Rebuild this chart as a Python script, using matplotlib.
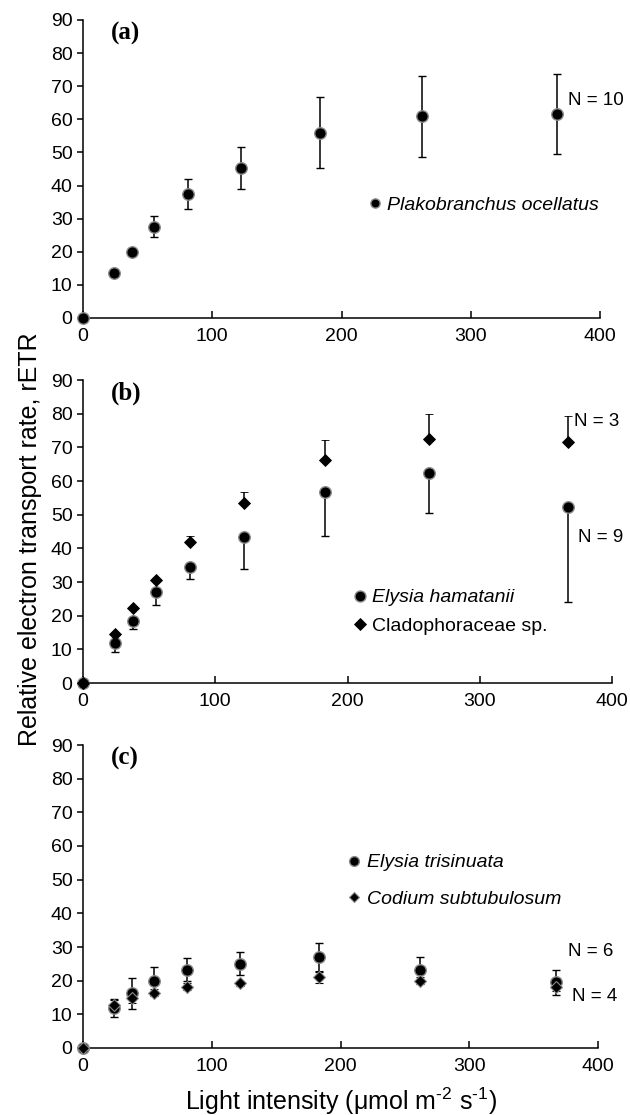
import matplotlib
matplotlib.use("Agg")
import matplotlib.pyplot as plt
from matplotlib.lines import Line2D

plt.rcParams['font.family'] = ['Liberation Sans', 'DejaVu Sans']
plt.rcParams['mathtext.fontset'] = 'custom'
plt.rcParams['mathtext.rm'] = 'Liberation Sans'
plt.rcParams['mathtext.it'] = 'Liberation Sans:italic'

# ---------------- data ----------------
light = [0, 24, 38, 55, 81, 122, 183, 262, 367]

# (a) Plakobranchus ocellatus, N = 10
plako_y = [0, 13.7, 19.9, 27.6, 37.4, 45.2, 56.0, 60.9, 61.7]
plako_err = [0, 0, 0, 3.1, 4.5, 6.3, 10.7, 12.3, 12.1]

# (b) Elysia hamatanii (N = 9), Cladophoraceae sp. (N = 3)
hama_y = [0, 11.9, 18.4, 27.0, 34.4, 43.4, 56.7, 62.5, 52.3]
hama_err_low = [0, 2.6, 2.4, 3.7, 3.4, 9.4, 13.0, 12.0, 28.2]
clado_y = [0, 14.7, 22.2, 30.5, 41.9, 53.6, 66.3, 72.6, 71.5]
clado_err_up = [0, 0, 0, 0, 1.7, 3.1, 5.9, 7.4, 7.7]

# (c) Elysia trisinuata (N = 6), Codium subtubulosum (N = 4)
tris_y = [0, 11.9, 16.2, 19.8, 23.3, 25.0, 26.9, 23.3, 19.5]
tris_err = [0, 2.7, 4.5, 4.2, 3.4, 3.4, 4.2, 3.6, 3.7]
codium_y = [0, 12.9, 14.9, 16.4, 18.2, 19.2, 21.1, 20.0, 18.0]
codium_err = [0, 1.5, 1.5, 1.0, 1.0, 0.8, 1.7, 1.0, 1.2]

xticks = [0, 100, 200, 300, 400]
yticks = [0, 10, 20, 30, 40, 50, 60, 70, 80, 90]
zeros = [0] * len(light)

# ---------------- figure ----------------
W, H = 630, 1115
fig = plt.figure(figsize=(W / 100, H / 100), dpi=100)
axA = fig.add_axes([83 / W, 1 - 318 / H, 517 / W, 298 / H])
axB = fig.add_axes([83 / W, 1 - 683 / H, 529 / W, 303 / H])
axC = fig.add_axes([83 / W, 1 - 1048 / H, 515 / W, 303 / H])

GREY = '#8a8a8a'
CMS, DMS = 8.3, 6.2
circ = dict(fmt='o', ms=CMS, mfc='black', mec=GREY, mew=1.0, ecolor='black',
            elinewidth=1.1, capsize=2.9, capthick=1.1, clip_on=False, zorder=3)
diam = dict(fmt='D', ms=DMS, mfc='black', mec='black', mew=0.6, ecolor='black',
            elinewidth=1.1, capsize=2.9, capthick=1.1, clip_on=False, zorder=4)

for ax in (axA, axB, axC):
    ax.set_xlim(0, 400)
    ax.set_ylim(0, 90)
    for s in ('top', 'right'):
        ax.spines[s].set_visible(False)
    for s in ('left', 'bottom'):
        ax.spines[s].set_linewidth(1.1)
    ax.set_xticks(xticks)
    ax.set_xticklabels([str(t) for t in xticks])
    ax.set_yticks(yticks)
    ax.set_yticklabels([str(t) for t in yticks])
    ax.tick_params(axis='x', direction='in', length=5, width=1.1, pad=7, labelsize=14)
    ax.tick_params(axis='y', direction='out', length=4.5, width=1.1, pad=3, labelsize=14)

def panel_label(ax, s):
    ax.text(32.5, 86, s, fontsize=18, fontweight='bold', ha='center', va='center',
            family=['Liberation Serif', 'DejaVu Serif'])

def legend(ax, handles, labels, anchor, spacing, mscale, italics):
    leg = ax.legend(handles, labels, loc='center left', bbox_to_anchor=anchor,
                    frameon=False, handlelength=0.8, handletextpad=0.25,
                    borderpad=0, borderaxespad=0, labelspacing=spacing,
                    markerscale=mscale, fontsize=14)
    for t, it in zip(leg.get_texts(), italics):
        if it:
            t.set_style('italic')
    return leg

h_circ = Line2D([], [], marker='o', ls='none', ms=CMS, mfc='black', mec=GREY, mew=1.0)
h_diam = Line2D([], [], marker='D', ls='none', ms=DMS, mfc='black', mec='black', mew=0.6)
h_diam_c = Line2D([], [], marker='D', ls='none', ms=DMS, mfc='black', mec=GREY, mew=0.8)

# (a)
axA.errorbar(light, plako_y, yerr=plako_err, **circ)
panel_label(axA, '(a)')
legend(axA, [h_circ], ['Plakobranchus ocellatus'], (0.549, 34.2 / 90), 0.5, 0.8, [True])
axA.text(375, 65.8, 'N = 10', fontsize=13.5, ha='left', va='center')

# (b)
axB.errorbar(light, hama_y, yerr=[hama_err_low, zeros], **circ)
axB.errorbar(light, clado_y, yerr=[zeros, clado_err_up], **diam)
panel_label(axB, '(b)')
legend(axB, [h_circ, h_diam], ['Elysia hamatanii', 'Cladophoraceae sp.'],
       (0.508, 21.15 / 90), 0.55, 0.95, [True, False])
axB.text(371, 77.7, 'N = 3', fontsize=13.5, ha='left', va='center')
axB.text(374, 43.3, 'N = 9', fontsize=13.5, ha='left', va='center')

# (c)
axC.errorbar(light, tris_y, yerr=tris_err, **circ)
diam_c = dict(diam, mec=GREY, mew=0.8)
axC.errorbar(light, codium_y, yerr=codium_err, **diam_c)
panel_label(axC, '(c)')
legend(axC, [h_circ, h_diam_c], ['Elysia trisinuata', 'Codium subtubulosum'],
       (0.511, 49.6 / 90), 0.98, 0.85, [True, True])
axC.text(377, 28.6, 'N = 6', fontsize=13.5, ha='left', va='center')
axC.text(380, 15.4, 'N = 4', fontsize=13.5, ha='left', va='center')

fig.text(30 / W, 1 - 539 / H, 'Relative electron transport rate, rETR', rotation=90,
         fontsize=18, ha='center', va='center')
fig.text(341 / W, 1 - 1101 / H, r'Light intensity (μmol m$^{\text{-2}}$ s$^{\text{-1}}$)',
         fontsize=18, ha='center', va='center')

fig.savefig('out.png', dpi=100)
